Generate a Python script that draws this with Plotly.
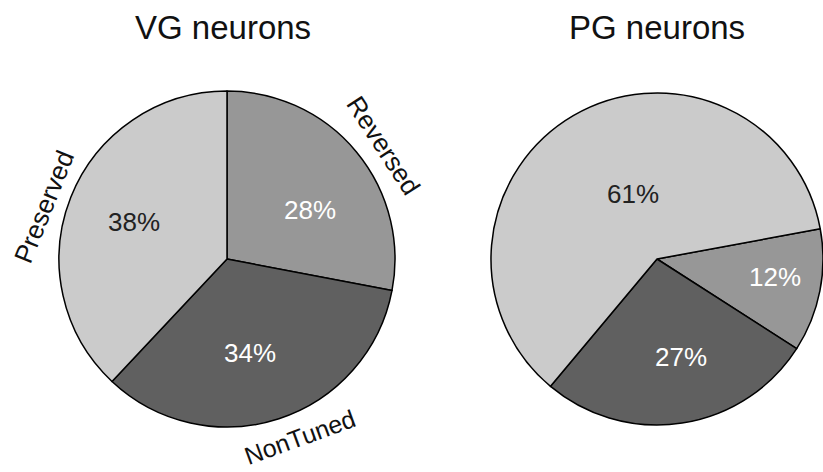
import plotly.graph_objects as go

vg_labels = ["Reversed", "NonTuned", "Preserved"]
vg_values = [28, 34, 38]
pg_labels = ["Reversed", "NonTuned", "Preserved"]
pg_values = [12, 27, 61]
slice_colors = ["#979797", "#606060", "#cbcbcb"]
text_colors = ["white", "white", "#222222"]
titles = ["VG neurons", "PG neurons"]

FONT = "Liberation Sans, Arial, sans-serif"
W, H = 823, 472


def px(x):
    return x / W


def py(y):
    return 1 - y / H


def dom(cx, cy, r):
    return dict(x=[px(cx - r), px(cx + r)], y=[py(cy + r), py(cy - r)])


fig = go.Figure()
fig.add_trace(go.Pie(
    labels=vg_labels, values=vg_values, sort=False, direction="clockwise", rotation=0,
    marker=dict(colors=slice_colors, line=dict(color="black", width=1.5)),
    textinfo="none", domain=dom(227, 259, 168), showlegend=False,
    hoverinfo="label+percent"))
fig.add_trace(go.Pie(
    labels=pg_labels, values=pg_values, sort=False, direction="clockwise", rotation=79.5,
    marker=dict(colors=slice_colors, line=dict(color="black", width=1.5)),
    textinfo="none", domain=dom(657, 259, 166), showlegend=False,
    hoverinfo="label+percent"))

# percent label placements (page pixels)
vg_pct_pos = [(310, 210), (250, 353), (134, 222)]
pg_pct_pos = [(775, 277), (681, 357), (633, 194)]
for vals, poss in ((vg_values, vg_pct_pos), (pg_values, pg_pct_pos)):
    tot = sum(vals)
    for v, (x, y), c in zip(vals, poss, text_colors):
        fig.add_annotation(text=f"{round(100 * v / tot)}%", x=px(x), y=py(y),
                           xref="paper", yref="paper", xanchor="center", yanchor="middle",
                           showarrow=False, font=dict(family=FONT, size=26, color=c))

ann = [
    dict(text=titles[0], x=223, y=28, size=33, angle=0),
    dict(text=titles[1], x=657, y=28, size=33, angle=0),
    dict(text=vg_labels[0], x=383, y=145, size=26, angle=57),
    dict(text=vg_labels[1], x=300, y=437, size=25, angle=-20),
    dict(text=vg_labels[2], x=44, y=207, size=26, angle=-68),
]
for a in ann:
    fig.add_annotation(text=a["text"], x=px(a["x"]), y=py(a["y"]), xref="paper", yref="paper",
                       xanchor="center", yanchor="middle", showarrow=False,
                       textangle=a["angle"], font=dict(family=FONT, size=a["size"], color="#111111"))

fig.update_layout(width=W, height=H, margin=dict(l=0, r=0, t=0, b=0),
                  paper_bgcolor="white", plot_bgcolor="white")
fig.write_html("out.html", config={"displayModeBar": False},
               post_script="document.body.style.margin='0';document.body.style.overflow='hidden';")
